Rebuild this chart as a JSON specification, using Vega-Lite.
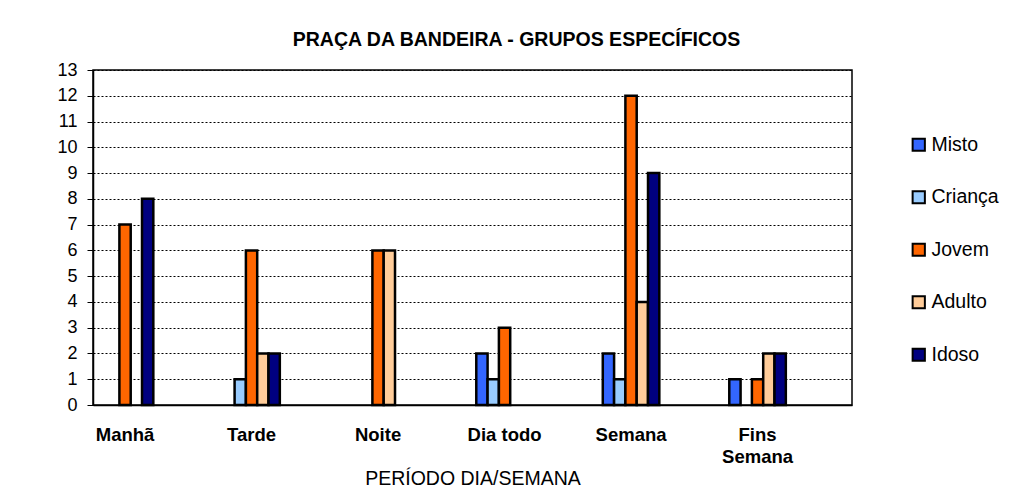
{
  "$schema": "https://vega.github.io/schema/vega-lite/v6.json",
  "autosize": {"type": "none"},
  "width": 759,
  "height": 335,
  "padding": {"left": 93, "top": 70, "right": 183, "bottom": 87},
  "background": "white",
  "title": {
    "text": "PRAÇA DA BANDEIRA - GRUPOS ESPECÍFICOS",
    "font": "Liberation Sans",
    "fontSize": 19.5,
    "fontWeight": "bold",
    "color": "black",
    "anchor": "middle",
    "baseline": "alphabetic",
    "offset": -4,
    "dx": 44
  },
  "data": {
    "values": [
      {"periodo": "Manhã", "grupo": "Misto", "valor": 0},
      {"periodo": "Manhã", "grupo": "Criança", "valor": 0},
      {"periodo": "Manhã", "grupo": "Jovem", "valor": 7},
      {"periodo": "Manhã", "grupo": "Adulto", "valor": 0},
      {"periodo": "Manhã", "grupo": "Idoso", "valor": 8},
      {"periodo": "Tarde", "grupo": "Misto", "valor": 0},
      {"periodo": "Tarde", "grupo": "Criança", "valor": 1},
      {"periodo": "Tarde", "grupo": "Jovem", "valor": 6},
      {"periodo": "Tarde", "grupo": "Adulto", "valor": 2},
      {"periodo": "Tarde", "grupo": "Idoso", "valor": 2},
      {"periodo": "Noite", "grupo": "Misto", "valor": 0},
      {"periodo": "Noite", "grupo": "Criança", "valor": 0},
      {"periodo": "Noite", "grupo": "Jovem", "valor": 6},
      {"periodo": "Noite", "grupo": "Adulto", "valor": 6},
      {"periodo": "Noite", "grupo": "Idoso", "valor": 0},
      {"periodo": "Dia todo", "grupo": "Misto", "valor": 2},
      {"periodo": "Dia todo", "grupo": "Criança", "valor": 1},
      {"periodo": "Dia todo", "grupo": "Jovem", "valor": 3},
      {"periodo": "Dia todo", "grupo": "Adulto", "valor": 0},
      {"periodo": "Dia todo", "grupo": "Idoso", "valor": 0},
      {"periodo": "Semana", "grupo": "Misto", "valor": 2},
      {"periodo": "Semana", "grupo": "Criança", "valor": 1},
      {"periodo": "Semana", "grupo": "Jovem", "valor": 12},
      {"periodo": "Semana", "grupo": "Adulto", "valor": 4},
      {"periodo": "Semana", "grupo": "Idoso", "valor": 9},
      {"periodo": "Fins Semana", "grupo": "Misto", "valor": 1},
      {"periodo": "Fins Semana", "grupo": "Criança", "valor": 0},
      {"periodo": "Fins Semana", "grupo": "Jovem", "valor": 1},
      {"periodo": "Fins Semana", "grupo": "Adulto", "valor": 2},
      {"periodo": "Fins Semana", "grupo": "Idoso", "valor": 2}
    ]
  },
  "transform": [{"filter": "datum.valor > 0"}],
  "mark": {"type": "bar", "stroke": "black", "strokeWidth": 2.5, "strokeOpacity": 1, "fillOpacity": 1},
  "encoding": {
    "x": {
      "field": "periodo",
      "type": "nominal",
      "sort": ["Manhã", "Tarde", "Noite", "Dia todo", "Semana", "Fins Semana"],
      "scale": {
        "domain": ["Manhã", "Tarde", "Noite", "Dia todo", "Semana", "Fins Semana"],
        "paddingInner": 0.553,
        "paddingOuter": 0.2765,
        "align": 0.054
      },
      "axis": {
        "title": "PERÍODO DIA/SEMANA",
        "titleFont": "Liberation Sans",
        "titleFontSize": 19.5,
        "titleFontWeight": "normal",
        "titleColor": "black",
        "titlePadding": 4,
        "labelAngle": 0,
        "labelFont": "Liberation Sans",
        "labelFontSize": 18.5,
        "labelFontWeight": "bold",
        "labelColor": "black",
        "labelPadding": 20,
        "labelLineHeight": 22,
        "labelExpr": "datum.label == 'Fins Semana' ? ['Fins', 'Semana'] : datum.label",
        "ticks": false,
        "domainColor": "black",
        "domainWidth": 1.5,
        "grid": false
      }
    },
    "xOffset": {
      "field": "grupo",
      "type": "nominal",
      "scale": {
        "domain": ["Misto", "Criança", "Jovem", "Adulto", "Idoso"],
        "paddingInner": 0,
        "paddingOuter": 0
      }
    },
    "y": {
      "field": "valor",
      "type": "quantitative",
      "scale": {"domain": [0, 13], "nice": false},
      "axis": {
        "title": null,
        "values": [0, 1, 2, 3, 4, 5, 6, 7, 8, 9, 10, 11, 12, 13],
        "labelFont": "Liberation Sans",
        "labelFontSize": 18,
        "labelColor": "black",
        "labelPadding": 10,
        "tickColor": "black",
        "tickSize": 6,
        "domainColor": "black",
        "domainWidth": 1.5,
        "grid": true,
        "gridColor": "black",
        "gridDash": [2, 2],
        "gridWidth": 1
      }
    },
    "fill": {
      "field": "grupo",
      "type": "nominal",
      "scale": {
        "domain": ["Misto", "Criança", "Jovem", "Adulto", "Idoso"],
        "range": ["#3366FF", "#99CCFF", "#FF6600", "#FFCC99", "#000080"]
      },
      "legend": {
        "title": null,
        "orient": "none",
        "legendX": 816,
        "legendY": 65,
        "symbolType": "square",
        "symbolSize": 150,
        "symbolStrokeColor": "black",
        "symbolStrokeWidth": 2,
        "symbolOpacity": 1,
        "labelFont": "Liberation Sans",
        "labelFontSize": 19.5,
        "labelColor": "black",
        "labelOffset": 3,
        "rowPadding": 31.5,
        "labelLimit": 200
      }
    }
  },
  "config": {
    "view": {"stroke": "black", "strokeWidth": 1.5}
  }
}
